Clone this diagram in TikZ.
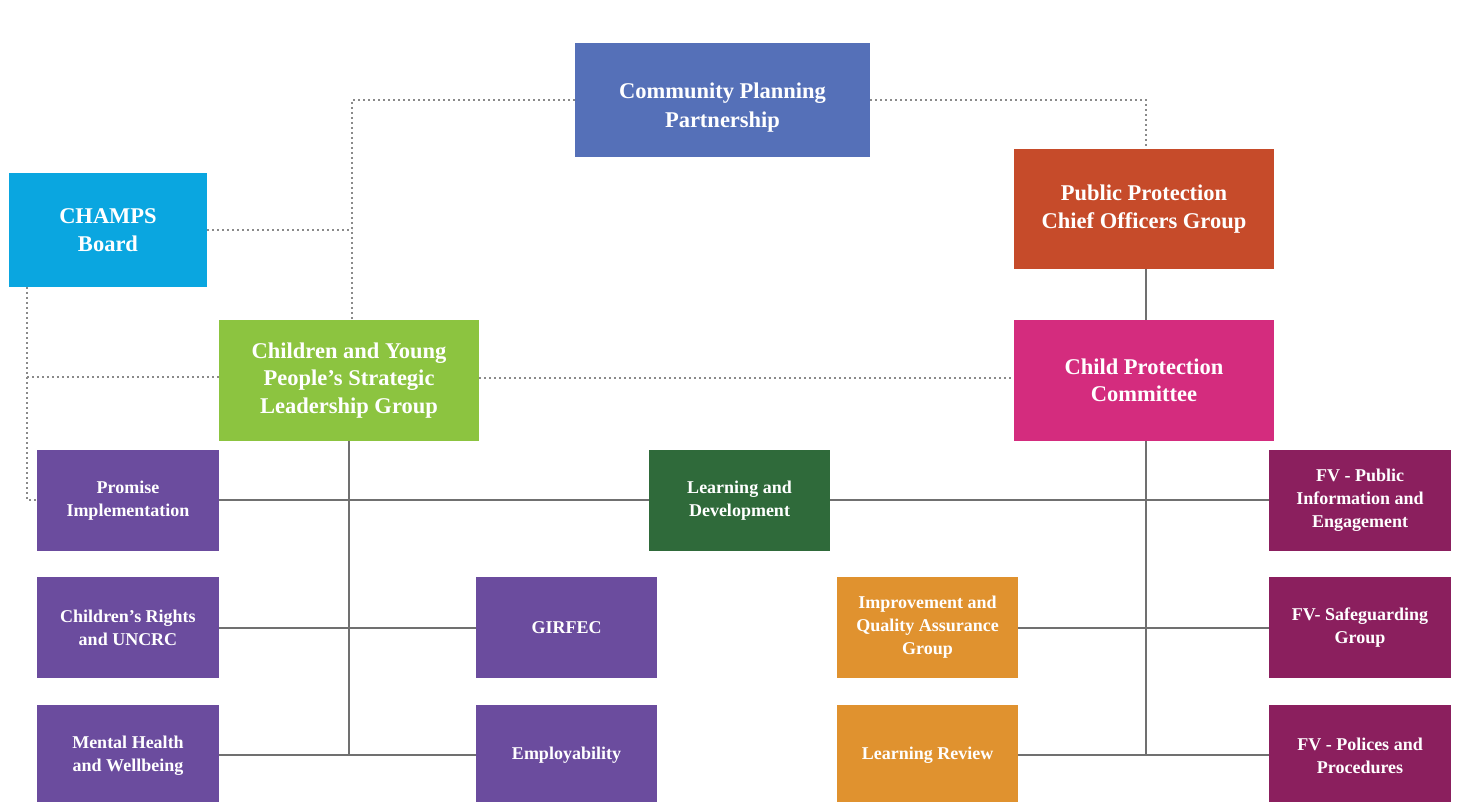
\documentclass[tikz,border=0pt]{standalone}
\usepackage{fontspec}
\setmainfont{Liberation Serif}
\definecolor{cppblue}{HTML}{5570B8}
\definecolor{champsblue}{HTML}{0AA6E0}
\definecolor{pporange}{HTML}{C64B2A}
\definecolor{cypgreen}{HTML}{8CC440}
\definecolor{cpcpink}{HTML}{D42C7E}
\definecolor{subpurple}{HTML}{6B4C9E}
\definecolor{ldgreen}{HTML}{2F6A3A}
\definecolor{fvplum}{HTML}{8B1F5E}
\definecolor{iqaorange}{HTML}{E0922F}
\definecolor{linegray}{HTML}{707070}
\definecolor{dotgray}{HTML}{8A8A8A}
\tikzset{
  bigbox/.style={fill=#1, draw=none, text=white, align=center, inner sep=0pt,
    font=\fontsize{22.5}{27.5}\selectfont\bfseries},
  smallbox/.style={fill=#1, draw=none, text=white, align=center, inner sep=0pt,
    minimum width=182pt, minimum height=101pt,
    font=\fontsize{18}{23}\selectfont\bfseries},
  solidline/.style={draw=linegray, line width=1.8pt},
  dotline/.style={draw=dotgray, line width=1.6pt, dash pattern=on 2pt off 3pt},
}
\begin{document}
\begin{tikzpicture}[x=1pt,y=-1pt]
\useasboundingbox (0,0) rectangle (1459,802);
\clip (0,0) rectangle (1459,802);
% coordinates for line junctions
\coordinate (lv) at (352,100);
\coordinate (lj) at (352,230);
\coordinate (rv) at (1146,100);
\coordinate (cl) at (27,287);
\coordinate (cm) at (27,377);
\coordinate (cb) at (27,500);
\coordinate (ltrunk) at (349,755);
\coordinate (rtrunk) at (1146,755);

% dotted connectors (behind boxes)
\draw[dotline] (575,100) -- (lv) -- (352,320);
\draw[dotline] (207,230) -- (lj);
\draw[dotline] (870,100) -- (rv) -- (1146,149);
\draw[dotline] (cl) -- (cb) -- (37,500);
\draw[dotline] (cm) -- (219,377);
\draw[dotline] (479,378) -- (1014,378);

% solid connectors
\draw[solidline] (349,441) -- (ltrunk);
\draw[solidline] (219,500) -- (649,500);
\draw[solidline] (830,500) -- (1269,500);
\draw[solidline] (219,628) -- (476,628);
\draw[solidline] (219,755) -- (476,755);
\draw[solidline] (1146,269) -- (1146,320);
\draw[solidline] (1146,441) -- (rtrunk);
\draw[solidline] (1018,628) -- (1269,628);
\draw[solidline] (1018,755) -- (1269,755);

% top-level boxes
\node[bigbox=cppblue, minimum width=295pt, minimum height=114pt] (cpp) at (722.5,100) {\raisebox{-8pt}[\height][\depth]{\begin{tabular}{@{}c@{}}Community Planning\\[1.5pt]Partnership\end{tabular}}};
\node[bigbox=champsblue, minimum width=198pt, minimum height=114pt] (champs) at (108,230) {CHAMPS\\Board};
\node[bigbox=pporange, minimum width=260pt, minimum height=120pt] (ppcog) at (1144,209) {Public Protection\\Chief Officers Group};
\node[bigbox=cypgreen, minimum width=260pt, minimum height=121pt] (cyp) at (349,380.5) {Children and Young\\People's Strategic\\Leadership Group};
\node[bigbox=cpcpink, minimum width=260pt, minimum height=121pt] (cpc) at (1144,380.5) {Child Protection\\Committee};

% sub-groups
\node[smallbox=subpurple] (promise) at (128,500.5) {Promise\\Implementation};
\node[smallbox=ldgreen, minimum width=181pt] (ld) at (739.5,500.5) {Learning and\\Development};
\node[smallbox=fvplum] (fvpub) at (1360,500.5) {FV - Public\\Information and\\Engagement};
\node[smallbox=subpurple] (rights) at (128,627.5) {Children's Rights\\and UNCRC};
\node[smallbox=subpurple, minimum width=181pt] (girfec) at (566.5,627.5) {GIRFEC};
\node[smallbox=iqaorange, minimum width=181pt] (iqa) at (927.5,627.5) {Improvement and\\Quality Assurance\\Group};
\node[smallbox=fvplum] (fvsafe) at (1360,627.5) {FV- Safeguarding\\Group};
\node[smallbox=subpurple] (mh) at (128,755.5) {Mental Health\\and Wellbeing};
\node[smallbox=subpurple, minimum width=181pt] (emp) at (566.5,755.5) {Employability};
\node[smallbox=iqaorange, minimum width=181pt] (lr) at (927.5,755.5) {Learning Review};
\node[smallbox=fvplum] (fvpol) at (1360,755.5) {FV - Polices and\\Procedures};
\end{tikzpicture}
\end{document}
